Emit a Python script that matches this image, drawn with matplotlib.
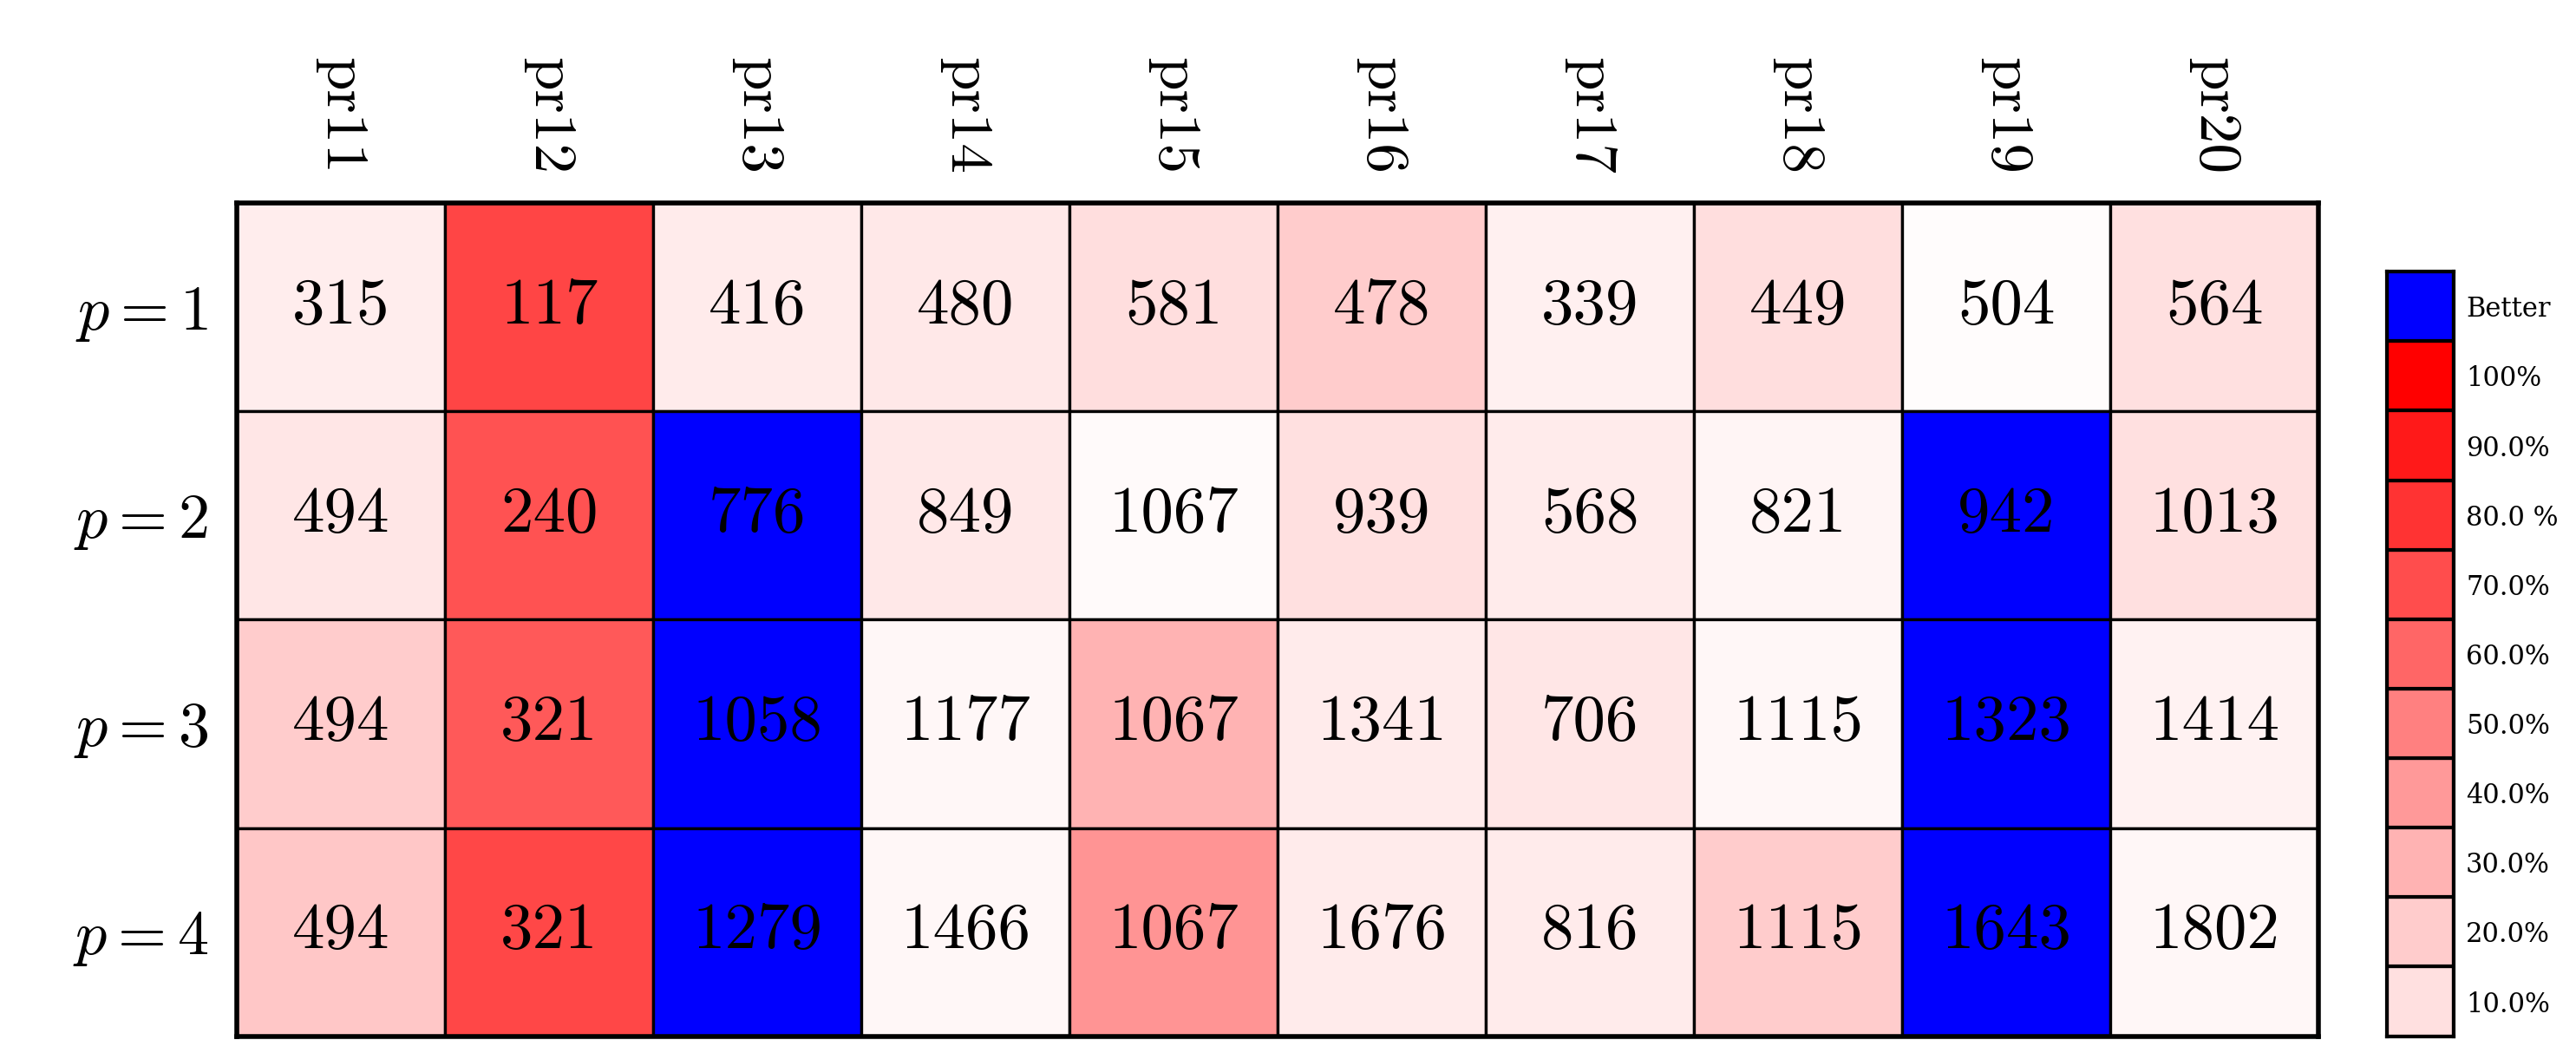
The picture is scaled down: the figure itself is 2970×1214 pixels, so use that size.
import numpy as np
import matplotlib.pyplot as plt

plt.rcParams['font.family'] = 'cmr10'
plt.rcParams['mathtext.fontset'] = 'cm'
plt.rcParams['axes.formatter.use_mathtext'] = True

columns = ['pr11', 'pr12', 'pr13', 'pr14', 'pr15', 'pr16', 'pr17', 'pr18', 'pr19', 'pr20']
rows = ['$p=1$', '$p=2$', '$p=3$', '$p=4$']

values = [
    [315, 117, 416, 480, 581, 478, 339, 449, 504, 564],
    [494, 240, 776, 849, 1067, 939, 568, 821, 942, 1013],
    [494, 321, 1058, 1177, 1067, 1341, 706, 1115, 1323, 1414],
    [494, 321, 1279, 1466, 1067, 1676, 816, 1115, 1643, 1802],
]

# gap (fraction worse than the best); nan = better (blue)
gap = [
    [0.07, 0.73, 0.08, 0.09, 0.13, 0.20, 0.06, 0.13, 0.01, 0.12],
    [0.10, 0.68, np.nan, 0.09, 0.02, 0.12, 0.08, 0.04, np.nan, 0.12],
    [0.20, 0.65, np.nan, 0.03, 0.30, 0.08, 0.10, 0.03, np.nan, 0.05],
    [0.22, 0.72, np.nan, 0.03, 0.42, 0.08, 0.08, 0.20, np.nan, 0.03],
]

bar_labels = ['10.0%', '20.0%', '30.0%', '40.0%', '50.0%', '60.0%',
              '70.0%', '80.0 %', '90.0%', '100%', 'Better']

vals = np.array(values)
g = np.array(gap)

def red(f):
    return (1.0, 1 - f, 1 - f)

fig = plt.figure(figsize=(14.85, 6.07), dpi=200)
ax = fig.add_axes([0.092, 0.016, 0.808, 0.791])
nr, nc = vals.shape
for i in range(nr):
    for j in range(nc):
        c = (0, 0, 1) if np.isnan(g[i, j]) else red(g[i, j])
        ax.add_patch(plt.Rectangle((j, i), 1, 1, facecolor=c, edgecolor='black', lw=1.2))
        ax.text(j + 0.5, i + 0.5, str(vals[i, j]), ha='center', va='center', fontsize=27)
ax.set_xlim(0, nc)
ax.set_ylim(nr, 0)
ax.set_xticks(np.arange(nc) + 0.5)
ax.set_xticklabels(columns, rotation=-90, fontsize=25)
ax.xaxis.tick_top()
ax.set_yticks(np.arange(nr) + 0.5)
ax.set_yticklabels(rows, fontsize=26)
ax.tick_params(length=0, pad=12)
for s in ax.spines.values():
    s.set_linewidth(2)

# colour bar
cax = fig.add_axes([0.9266, 0.016, 0.026, 0.726])
levels = [red(k / 10) for k in range(1, 11)] + [(0, 0, 1)]
levels[0] = red(0.12)
for k, c in enumerate(levels):
    cax.add_patch(plt.Rectangle((0, k), 1, 1, facecolor=c, edgecolor='black', lw=1.5))
cax.set_xlim(0, 1)
cax.set_ylim(0, len(levels))
cax.set_xticks([])
cax.yaxis.tick_right()
cax.set_yticks(np.arange(len(levels)) + 0.5)
cax.set_yticklabels(bar_labels, fontsize=11, family='DejaVu Serif')
cax.tick_params(length=0, pad=5)
for s in cax.spines.values():
    s.set_linewidth(1.5)

fig.savefig('out.png', dpi=200)
